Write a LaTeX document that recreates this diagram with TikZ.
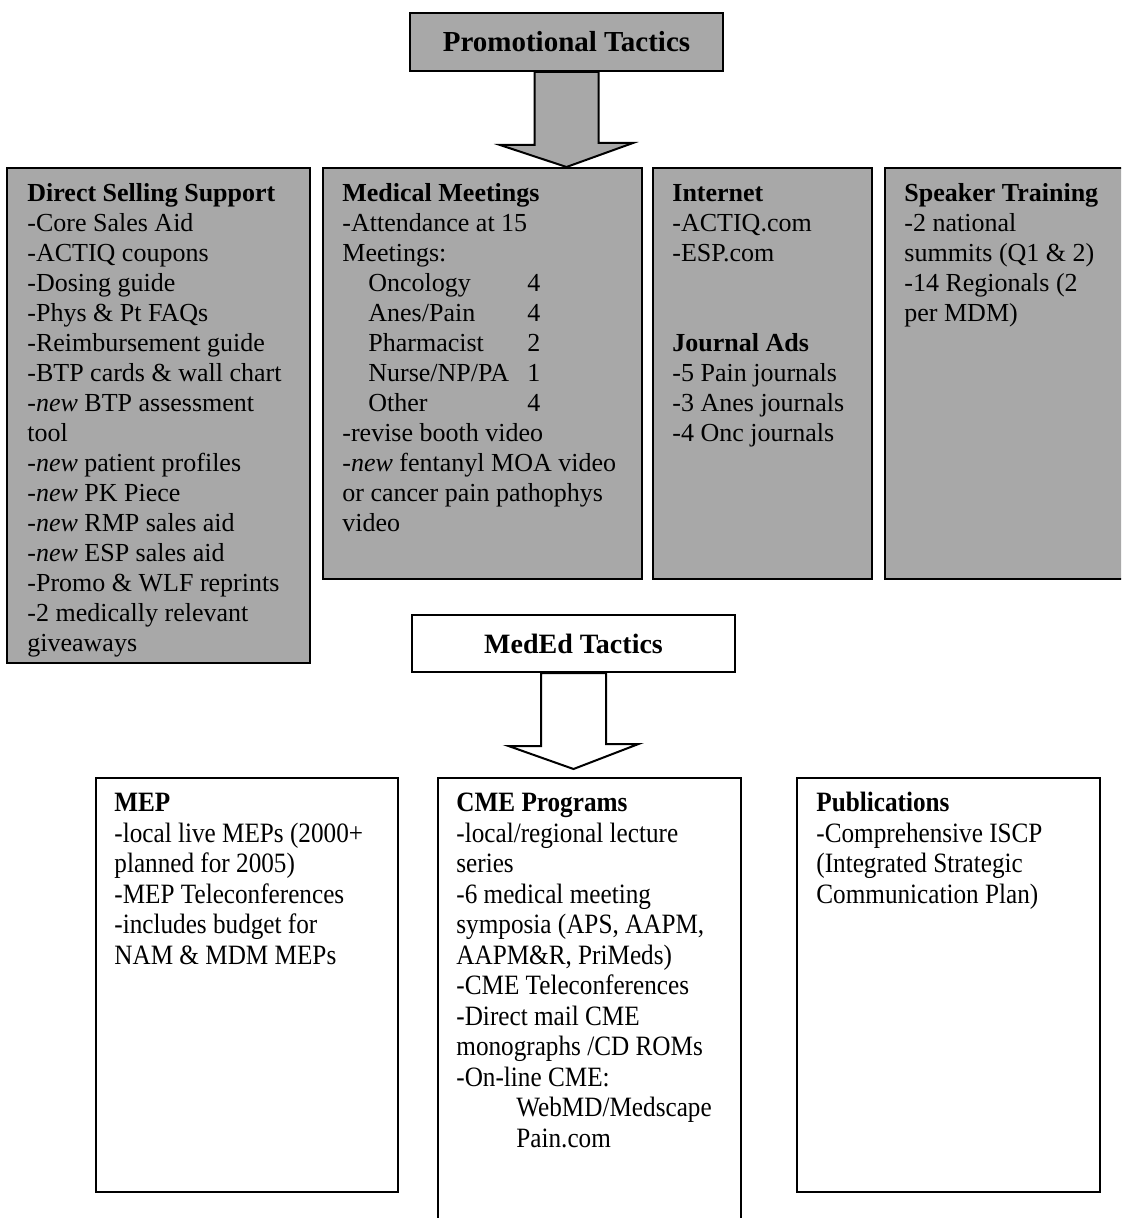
\documentclass[tikz,border=0pt]{standalone}
\usepackage{fontspec}
\setmainfont{Liberation Serif}
\newfontfamily\narrowserif[FakeStretch=0.9]{Liberation Serif}
\usetikzlibrary{fit,calc}
\definecolor{halftone}{gray}{0.66}

\tikzset{
  frame/.style={draw=black, line width=1pt, inner sep=0pt},
  shaded/.style={frame, fill=halftone},
  plainbox/.style={frame, fill=white},
  title/.style={font=\bfseries\fontsize{14.5}{16}\selectfont},
  body/.style={anchor=north west, inner sep=0pt, align=left,
    font=\fontsize{13}{15}\selectfont},
  lowbody/.style={anchor=north west, inner sep=0pt, align=left,
    font=\narrowserif\fontsize{14}{15.25}\selectfont},
  blockarrow/.style={draw=black, line width=1pt, line join=miter}
}

\begin{document}
\begin{tikzpicture}[x=0.5pt, y=-0.5pt]
\useasboundingbox (0,0) rectangle (1121,1218);
\clip (0,0) rectangle (1121,1218);

% ---------- top level: promotional tactics ----------
\node[shaded, fit={(410,13)(723,71)}] (promo) {};
\node[title] at (promo.center) {Promotional Tactics};
\node[shaded, fit={(7,168)(310,663)}] (dss) {};
\node[shaded, fit={(323,168)(642,579)}] (mm) {};
\node[shaded, fit={(653,168)(872,579)}] (net) {};
\node[shaded, fit={(885,168)(1150,579)}] (spk) {};

% block arrow from the title down to the row of boxes
\draw[blockarrow, fill=halftone]
  ($(promo.south)+(-32,0)$) -- ++(0,73) -- ++(-34.5,0)
  -- ($(promo.south |- mm.north)$) -- ++(66.5,-24) -- ++(-34.5,0)
  -- ($(promo.south)+(32,0)$) -- cycle;

\node[body] (dsstext) at ($(dss.north west)+(21,13)$) {\strut\textbf{Direct Selling Support}\\
-Core Sales Aid\\
-ACTIQ coupons\\
-Dosing guide\\
-Phys \& Pt FAQs\\
-Reimbursement guide\\
-BTP cards \& wall chart\\
-\textit{new} BTP assessment\\
tool\\
-\textit{new} patient profiles\\
-\textit{new} PK Piece\\
-\textit{new} RMP sales aid\\
-\textit{new} ESP sales aid\\
-Promo \& WLF reprints\\
-2 medically relevant\\
giveaways};

\node[body] (mmtext) at ($(mm.north west)+(20,13)$) {\strut\textbf{Medical Meetings}\\
-Attendance at 15\\
Meetings:\\
\hspace*{13pt}\makebox[79.5pt][l]{Oncology}4\\
\hspace*{13pt}\makebox[79.5pt][l]{Anes/Pain}4\\
\hspace*{13pt}\makebox[79.5pt][l]{Pharmacist}2\\
\hspace*{13pt}\makebox[79.5pt][l]{Nurse/NP/PA}1\\
\hspace*{13pt}\makebox[79.5pt][l]{Other}4\\
-revise booth video\\
-\textit{new} fentanyl MOA video\\
or cancer pain pathophys\\
video};

\node[body] (nettext) at ($(net.north west)+(20,13)$) {\strut\textbf{Internet}\\
-ACTIQ.com\\
-ESP.com\\[30pt]
\textbf{Journal Ads}\\
-5 Pain journals\\
-3 Anes journals\\
-4 Onc journals};

\node[body] (spktext) at ($(spk.north west)+(20,13)$) {\strut\textbf{Speaker Training}\\
-2 national\\
summits (Q1 \& 2)\\
-14 Regionals (2\\
per MDM)};

% ---------- second level: medical education tactics ----------
\node[plainbox, fit={(412,615)(735,672)}] (meded) {};
\node[title, font=\bfseries\fontsize{14}{16}\selectfont] at (meded.center) {MedEd Tactics};
\node[plainbox, fit={(96,778)(398,1192)}] (mep) {};
\node[plainbox, fit={(438,778)(741,1250)}] (cme) {};
\node[plainbox, fit={(797,778)(1100,1192)}] (pub) {};

\draw[blockarrow, fill=white]
  ($(meded.south)+(-32.5,0)$) -- ++(0,73) -- ++(-32.5,0)
  -- ($(meded.south |- cme.north)+(0,-8)$) -- ++(65,-25) -- ++(-32.5,0)
  -- ($(meded.south)+(32.5,0)$) -- cycle;

\node[lowbody] (meptext) at ($(mep.north west)+(19,13)$) {\strut\textbf{MEP}\\
-local live MEPs (2000+\\
planned for 2005)\\
-MEP Teleconferences\\
-includes budget for\\
NAM \& MDM MEPs};

\node[lowbody] (cmetext) at ($(cme.north west)+(19,13)$) {\strut\textbf{CME Programs}\\
-local/regional lecture\\
series\\
-6 medical meeting\\
symposia (APS, AAPM,\\
AAPM\&R, PriMeds)\\
-CME Teleconferences\\
-Direct mail CME\\
monographs /CD ROMs\\
-On-line CME:\\
\hspace*{30pt}WebMD/Medscape\\
\hspace*{30pt}Pain.com};

\node[lowbody] (pubtext) at ($(pub.north west)+(20,13)$) {\strut\textbf{Publications}\\
-Comprehensive ISCP\\
(Integrated Strategic\\
Communication Plan)};
\end{tikzpicture}
\end{document}
